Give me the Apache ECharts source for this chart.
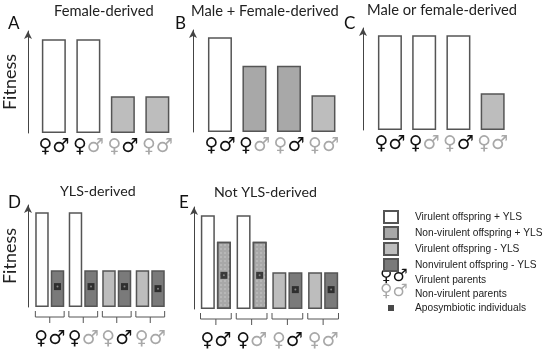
<!DOCTYPE html>
<html><head><meta charset="utf-8"><style>html,body{margin:0;background:#fff}#c{width:550px;height:353px}</style>
<script src="https://cdn.jsdelivr.net/npm/echarts@6/dist/echarts.min.js"></script></head>
<body><div id="c"></div><script>
const parentPairs = ['VV','VN','NV','NN'];
const NAME_WHITE='Virulent offspring + YLS', NAME_MID='Non-virulent offspring + YLS', NAME_LIGHT='Virulent offspring - YLS', NAME_DARK='Nonvirulent offspring - YLS', NAME_APO='Aposymbiotic individuals', NAME_VP='Virulent parents', NAME_NP='Non-virulent parents';

const aWhite=[92,92,null,null], aLight=[null,null,36,36];
const bWhite=[93,null,null,null], bMid=[null,65,65,null], bLight=[null,null,null,36];
const cWhite=[93,93,93,null], cLight=[null,null,null,36];
const dWhite=[93,93,null,null], dLight=[null,null,36,36], dDark=[36,36,36,36], dApo=[20,20,20,18];
const eWhite=[92,92,null,null], eMid=[66,66,null,null], eLight=[null,null,36,36], eDark=[null,null,36,36], eApo=[33,33,19,19];

const titleTexts=['Female-derived','Male + Female-derived','Male or female-derived','YLS-derived','Not YLS-derived'];
const panelLetters=['A','B','C','D','E'];

const titlePos=[[54,4,14.7],[191,4,14.7],[367,3,14.7],[60,184,14.2],[214,185,14.2]];
const letterPos=[[8,15],[175,15],[344,15],[8,194],[179,194]];
const colors={[NAME_WHITE]:'#ffffff',[NAME_MID]:'#a8a8a8',[NAME_LIGHT]:'#bdbdbd',[NAME_DARK]:'#7a7a7a'};
const grids=[
 {left:35.6,width:139,top:31,height:102,off:8.6},
 {left:202.7,width:138,top:30,height:102,off:9.7},
 {left:372.8,width:137,top:28,height:102,off:9.8},
 {left:32,width:135,top:205,height:102,off:5},
 {left:198,width:143,top:207,height:102,off:4}
];
const showFitness=[true,false,false,true,false];
const black='#111', grey='#a8a8a8';
const rich={ b:{color:black,fontFamily:'DejaVu Sans',fontSize:19,fontWeight:'bold',lineHeight:22}, g:{color:grey,fontFamily:'DejaVu Sans',fontSize:19,fontWeight:'bold',lineHeight:22} };
const pairLabel=v=>'{'+(v[0]=='V'?'b':'g')+'|♀}{'+(v[1]=='V'?'b':'g')+'|♂}';

const xAxis=grids.map((g,i)=>({gridIndex:i,type:'category',data:parentPairs,axisLine:{show:false},axisTick:{show:false},
  axisLabel:{formatter:pairLabel,rich,margin:i>2?21:3,interval:0}}));
const yAxis=grids.map((g,i)=>({gridIndex:i,type:'value',min:0,max:100,splitLine:{show:false},axisTick:{show:false},axisLabel:{show:false},offset:g.off,
  axisLine:{show:true,onZero:false,symbol:['none','arrow'],symbolSize:[6,8],lineStyle:{color:'#444',width:1}},
  name:showFitness[i]?'Fitness':'',nameLocation:'middle',nameRotate:90,nameGap:9,nameTextStyle:{fontFamily:'Lato',fontSize:18,color:'#222'}}));

const series=[];
function bars(i,name,stack,data,w,gap,decal){
  const s={type:'bar',name,xAxisIndex:i,yAxisIndex:i,stack:'p'+i+stack,data,barWidth:w,barGap:gap,
    itemStyle:{color:colors[name],borderColor:'#555',borderWidth:1.5}};
  if(decal) s.itemStyle.decal={symbol:'rect',symbolSize:1,dashArrayX:[2,2],dashArrayY:[2,2],color:'rgba(255,255,255,0.18)'};
  series.push(s);
}
function apo(i,data,off){
  series.push({type:'scatter',name:NAME_APO,xAxisIndex:i,yAxisIndex:i,data,symbol:'rect',symbolSize:7,symbolOffset:[off,0],itemStyle:{color:'#1c1c1c'},z:5});
  series.push({type:'scatter',name:'centre',xAxisIndex:i,yAxisIndex:i,data,symbol:'circle',symbolSize:2,symbolOffset:[off,0],itemStyle:{color:'#999'},z:6});
}
function brackets(i){
  series.push({type:'custom',name:'bracket',xAxisIndex:i,yAxisIndex:i,clip:false,silent:true,data:parentPairs.map(p=>[p,0]),encode:{x:0,y:1},
    renderItem(params,api){
      const p=api.coord([api.value(0),0]), hw=api.size([1,0])[0]*0.43;
      const x=p[0],y=p[1];
      return {type:'group',children:[
        {type:'polyline',shape:{points:[[x-hw,y+4],[x-hw,y+10],[x+hw,y+10],[x+hw,y+4]]},style:{stroke:'#555',lineWidth:1,fill:null}},
        {type:'line',shape:{x1:x,y1:y+10,x2:x,y2:y+16},style:{stroke:'#555',lineWidth:1}}
      ]};
    }});
}
bars(0,NAME_WHITE,'s',aWhite,24); bars(0,NAME_LIGHT,'s',aLight,24);
bars(1,NAME_WHITE,'s',bWhite,24); bars(1,NAME_MID,'s',bMid,24); bars(1,NAME_LIGHT,'s',bLight,24);
bars(2,NAME_WHITE,'s',cWhite,24); bars(2,NAME_LIGHT,'s',cLight,24);
bars(3,NAME_WHITE,'L',dWhite,13.5,'15%'); bars(3,NAME_LIGHT,'L',dLight,13.5,'15%'); bars(3,NAME_DARK,'R',dDark,13.5,'15%');
bars(4,NAME_WHITE,'L',eWhite,14,'15%'); bars(4,NAME_LIGHT,'L',eLight,14,'15%'); bars(4,NAME_MID,'R',eMid,14,'15%',true); bars(4,NAME_DARK,'R',eDark,14,'15%');
apo(3,dApo,7.75); apo(4,eApo,8);
brackets(3); brackets(4);
series.push({type:'scatter',name:NAME_VP,data:[],xAxisIndex:0,yAxisIndex:0});
series.push({type:'scatter',name:NAME_NP,data:[],xAxisIndex:0,yAxisIndex:0});

const title=titleTexts.map((t,i)=>({text:t,left:titlePos[i][0],top:titlePos[i][1],padding:0,textStyle:{fontFamily:'Lato',fontSize:titlePos[i][2],fontWeight:'normal',color:'#222'}}))
 .concat(panelLetters.map((t,i)=>({text:t,left:letterPos[i][0],top:letterPos[i][1],padding:0,textStyle:{fontFamily:'Lato',fontSize:17,fontWeight:'normal',color:'#111'}})));

const hide={color:'rgba(0,0,0,0)',borderColor:'rgba(0,0,0,0)'};
const apoIcon='path://M0 0L0 0M14 14L14 14M3.5 3.5H10.5V10.5H3.5Z';
const chart=echarts.init(document.getElementById('c'),null,{renderer:'canvas'});
chart.setOption({animation:false,backgroundColor:'#fff',title,
 grid:grids.map(g=>({left:g.left,width:g.width,top:g.top,height:g.height})),xAxis,yAxis,series,
 legend:{left:383,top:210,padding:0,orient:'vertical',itemWidth:14,itemHeight:12,itemGap:2,selectedMode:false,
  textStyle:{fontFamily:'Liberation Sans',fontSize:10.2,color:'#222',padding:[0,0,0,12]},
  data:[{name:NAME_WHITE,icon:'rect'},{name:NAME_MID,icon:'rect'},{name:NAME_LIGHT,icon:'rect'},{name:NAME_DARK,icon:'rect'},
   {name:NAME_VP,icon:'rect',itemStyle:hide},{name:NAME_NP,icon:'rect',itemStyle:hide},{name:NAME_APO,icon:apoIcon,itemStyle:{color:'#1c1c1c',borderColor:'#1c1c1c'}}]},
 graphic:[
  {type:'text',left:380,top:268,style:{text:'♀♂',fill:black,font:'bold 17px "DejaVu Sans"'}},
  {type:'text',left:380,top:283,style:{text:'♀♂',fill:grey,font:'bold 17px "DejaVu Sans"'}}
 ]});
</script></body></html>
